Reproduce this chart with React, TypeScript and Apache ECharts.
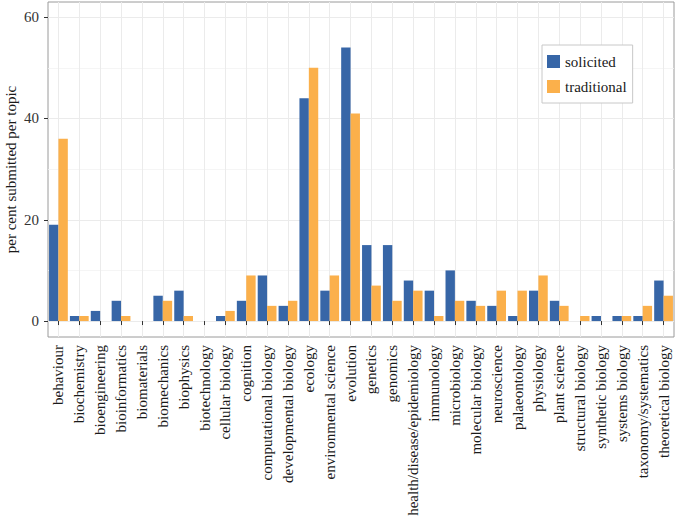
import React, { useEffect, useRef } from "react";
import * as echarts from "echarts";

const categories = [
  "behaviour", "biochemistry", "bioengineering", "bioinformatics", "biomaterials",
  "biomechanics", "biophysics", "biotechnology", "cellular biology", "cognition",
  "computational biology", "developmental biology", "ecology", "environmental science",
  "evolution", "genetics", "genomics", "health/disease/epidemiology", "immunology",
  "microbiology", "molecular biology", "neuroscience", "palaeontology", "physiology",
  "plant science", "structural biology", "synthetic biology", "systems biology",
  "taxonomy/systematics", "theoretical biology",
];

const solicited = [19, 1, 2, 4, 0, 5, 6, 0, 1, 4, 9, 3, 44, 6, 54, 15, 15, 8, 6, 10, 4, 3, 1, 6, 4, 0, 1, 1, 1, 8];
const traditional = [36, 1, 0, 1, 0, 4, 1, 0, 2, 9, 3, 4, 50, 9, 41, 7, 4, 6, 1, 4, 3, 6, 6, 9, 3, 1, 0, 1, 3, 5];

const yMajor = [0, 20, 40, 60];
const yMinor = [10, 30, 50];

const FONT = "'Liberation Serif', 'Times New Roman', serif";

export default function App() {
  const ref = useRef<HTMLDivElement>(null);
  useEffect(() => {
    if (!ref.current) return;
    const chart = echarts.init(ref.current, undefined, { renderer: "svg" });
    const gridLines = [
      ...yMinor.map((v) => ({ yAxis: v, lineStyle: { color: "#f2f2f2", width: 0.8, type: "solid" } })),
      ...yMajor.map((v) => ({ yAxis: v, lineStyle: { color: "#ebebeb", width: 1, type: "solid" } })),
      ...categories.map((c) => ({ xAxis: c, lineStyle: { color: "#ebebeb", width: 1, type: "solid" } })),
    ];
    chart.setOption({
      animation: false,
      grid: {
        left: 48,
        right: 2,
        top: 2,
        bottom: 179,
        containLabel: false,
        outerBoundsMode: "none",
        show: true,
        borderColor: "#9a9a9a",
        borderWidth: 1,
      },
      legend: {
        data: ["solicited", "traditional"],
        orient: "vertical",
        left: 542,
        top: 45,
        padding: [9, 6, 9, 5],
        itemWidth: 13,
        itemHeight: 13,
        itemGap: 10,
        icon: "rect",
        borderColor: "#c8c8c8",
        borderWidth: 1,
        backgroundColor: "#fff",
        textStyle: { fontFamily: FONT, fontSize: 15, color: "#1a1a1a" },
      },
      xAxis: {
        type: "category",
        data: categories,
        axisLine: { show: false },
        axisTick: { show: true, alignWithLabel: true, length: 4, lineStyle: { color: "#333" } },
        axisLabel: {
          interval: 0,
          rotate: 90,
          margin: 8,
          fontFamily: FONT,
          fontSize: 15,
          color: "#1a1a1a",
        },
        splitLine: { show: false },
      },
      yAxis: {
        type: "value",
        min: -3.15,
        max: 63,
        axisLine: { show: false },
        splitLine: { show: false },
        axisTick: { show: true, length: 4, customValues: yMajor, lineStyle: { color: "#333" } },
        axisLabel: {
          customValues: yMajor,
          margin: 9,
          fontFamily: FONT,
          fontSize: 15,
          color: "#333",
        },
        name: "per cent submitted per topic",
        nameLocation: "middle",
        nameGap: 30,
        nameMoveOverlap: false,
        nameTextStyle: { fontFamily: FONT, fontSize: 15, color: "#1a1a1a" },
      },
      series: [
        {
          name: "grid",
          type: "line",
          data: [],
          silent: true,
          z: 0,
          markLine: {
            silent: true,
            z: 0,
            symbol: ["none", "none"],
            label: { show: false },
            emphasis: { disabled: true },
            animation: false,
            lineStyle: { type: "solid" },
            data: gridLines,
          },
        },
        {
          name: "solicited",
          type: "bar",
          data: solicited,
          barGap: "0%",
          barCategoryGap: "10%",
          itemStyle: { color: "#3766A7" },
          z: 3,
        },
        {
          name: "traditional",
          type: "bar",
          data: traditional,
          barGap: "0%",
          barCategoryGap: "10%",
          itemStyle: { color: "#FBB04B" },
          z: 3,
        },
      ],
    });
    return () => chart.dispose();
  }, []);
  return (
    <div
      ref={ref}
      style={{ position: "fixed", left: 0, top: 0, width: 676, height: 516, background: "#fff" }}
    />
  );
}
